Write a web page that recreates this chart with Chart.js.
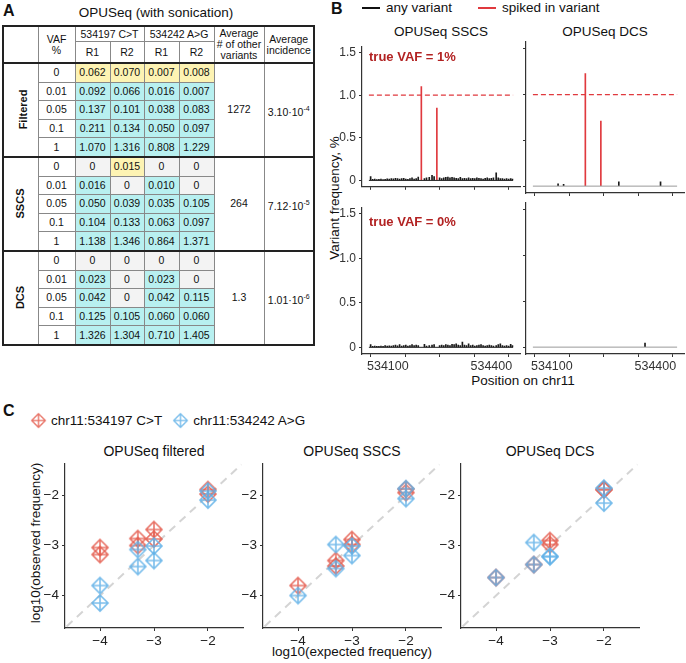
<!doctype html>
<html lang="en">
<head>
<meta charset="UTF-8" />
<title>OPUSeq with sonication</title>
<script src="https://cdn.jsdelivr.net/npm/chart.js"></script>
<style>
  body { margin: 0; background: #fff; font-family: Arial, 'Liberation Sans', sans-serif; color: #111; }
  #fig { position: relative; width: 686px; height: 663px; overflow: hidden; }
  .abs { position: absolute; white-space: nowrap; }
  .plot { position: absolute; }
  .letter { font-weight: bold; font-size: 16px; }
  .ftitle { font-size: 13.5px; transform: translateX(-50%); }
  .vaf { font-weight: bold; font-size: 13px; color: #b22222; }
  .rot { transform: translate(-50%, -50%) rotate(-90deg); font-size: 13.5px; }
  #tbl { position: absolute; left: 2px; top: 25px; width: 311px; border-collapse: collapse; table-layout: fixed;
         font-size: 10.5px; text-align: center; border: 2px solid #222; }
  #tbl td { border: 1px solid #888; padding: 0; line-height: 11px; }
  #tbl tbody { border: 2px solid #222; }
  #tbl thead tr.h1 td { height: 14px; }
  #tbl thead tr.h2 td { height: 20px; }
  #tbl tbody td { height: 17.6px; }
  #tbl td.grp { font-weight: bold; font-size: 11px; }
  #tbl td.grp span { display: inline-block; transform: rotate(-90deg); }
  #tbl td.y { background: #fdf3b3; }
  #tbl td.c { background: #b8f0f0; }
  #tbl td.z { background: #f3f3f3; }
  #tbl sup { font-size: 7px; }
  .leg { display: flex; align-items: center; font-size: 13.5px; }
  .leg .ln { display: inline-block; width: 18px; height: 2px; margin-right: 6px; }
</style>
</head>
<body>
<div id="fig">
  <div class="abs letter" style="left:3px;top:2px">A</div>
  <div class="abs" style="left:156px;top:5px;font-size:13.5px;transform:translateX(-50%)">OPUSeq (with sonication)</div>
  <table id="tbl"></table>

  <div class="abs letter" style="left:331px;top:0px">B</div>
  <div class="abs leg" style="left:362px;top:0px">
    <span class="ln" style="background:#111"></span><span>any variant</span>
    <span class="ln" style="background:#e0393e;margin-left:26px"></span><span>spiked in variant</span>
  </div>
  <div class="abs ftitle" style="left:441px;top:24px">OPUSeq SSCS</div>
  <div class="abs ftitle" style="left:605px;top:24px">OPUSeq DCS</div>
  <div class="abs rot" style="left:334px;top:198px">Variant frequency, %</div>
  <div class="abs" style="left:523px;top:373px;font-size:13.5px;transform:translateX(-50%)">Position on chr11</div>
  <canvas id="b1" class="plot" width="194" height="161" style="left:330px;top:36px"></canvas>
  <canvas id="b2" class="plot" width="164" height="161" style="left:522px;top:36px"></canvas>
  <canvas id="b3" class="plot" width="194" height="181" style="left:330px;top:197px"></canvas>
  <canvas id="b4" class="plot" width="164" height="181" style="left:522px;top:197px"></canvas>
  <div class="abs vaf" style="left:369px;top:49px">true VAF = 1%</div>
  <div class="abs vaf" style="left:369px;top:214px">true VAF = 0%</div>

  <div class="abs letter" style="left:3px;top:402px">C</div>
  <div class="abs leg" id="cleg" style="left:30px;top:412px"></div>
  <div class="abs ftitle" style="left:154px;top:443px;font-size:14px">OPUSeq filtered</div>
  <div class="abs ftitle" style="left:352px;top:443px;font-size:14px">OPUSeq SSCS</div>
  <div class="abs ftitle" style="left:550px;top:443px;font-size:14px">OPUSeq DCS</div>
  <div class="abs rot" style="left:35px;top:543px">log10(observed frequency)</div>
  <div class="abs" style="left:352px;top:644px;font-size:13.5px;transform:translateX(-50%)">log10(expected frequency)</div>
  <canvas id="c1" class="plot" width="219" height="198" style="left:30px;top:452px"></canvas>
  <canvas id="c2" class="plot" width="219" height="198" style="left:228px;top:452px"></canvas>
  <canvas id="c3" class="plot" width="219" height="198" style="left:426px;top:452px"></canvas>
</div>
<script>
  // ---- panel A table data ----
  const vafLevels = ['0', '0.01', '0.05', '0.1', '1']
  const groupNames = ['Filtered', 'SSCS', 'DCS']
  const filteredVals = [
    ['0.062', '0.070', '0.007', '0.008'],
    ['0.092', '0.066', '0.016', '0.007'],
    ['0.137', '0.101', '0.038', '0.083'],
    ['0.211', '0.134', '0.050', '0.097'],
    ['1.070', '1.316', '0.808', '1.229']
  ]
  const sscsVals = [
    ['0', '0.015', '0', '0'],
    ['0.016', '0', '0.010', '0'],
    ['0.050', '0.039', '0.035', '0.105'],
    ['0.104', '0.133', '0.063', '0.097'],
    ['1.138', '1.346', '0.864', '1.371']
  ]
  const dcsVals = [
    ['0', '0', '0', '0'],
    ['0.023', '0', '0.023', '0'],
    ['0.042', '0', '0.042', '0.115'],
    ['0.125', '0.105', '0.060', '0.060'],
    ['1.326', '1.304', '0.710', '1.405']
  ]
  const otherVariants = ['1272', '264', '1.3']
  const incidenceBase = ['3.10·10', '7.12·10', '1.01·10']
  const incidenceExp = ['-4', '-5', '-6']

  // ---- panel B data ----
  const bXTicks = [534100, 534200, 534300, 534400]
  const bXLabels = ['534100', '', '', '534400']
  const bYTicks = [0, 0.5, 1, 1.5]
  const bYLabels = ['0', '0.5', '1.0', '1.5']
  const spikedPos = [534197, 534242]
  const spikedSSCS = [1.10, 0.85]
  const spikedDCS = [1.23, 0.71]
  const trueVaf = 1
  const posRange = [534045, 534463]
  const sscsPos = [
    534050, 534056, 534062, 534068, 534074, 534080, 534086, 534092, 534098, 534104,
    534110, 534116, 534122, 534128, 534134, 534140, 534146, 534152, 534158, 534164,
    534170, 534176, 534182, 534188, 534206, 534212, 534220, 534228, 534234, 534250,
    534256, 534262, 534268, 534274, 534280, 534286, 534292, 534298, 534304, 534310,
    534316, 534322, 534328, 534334, 534340, 534346, 534352, 534358, 534364, 534370,
    534376, 534382, 534388, 534394, 534400, 534406, 534414, 534420, 534426, 534432,
    534438, 534444, 534450, 534456, 534461
  ]
  const sscsOther1 = [
    0.045, 0.012, 0.015, 0.010, 0.012, 0.015, 0.010, 0.012, 0.018, 0.015,
    0.020, 0.018, 0.025, 0.020, 0.015, 0.022, 0.025, 0.015, 0.012, 0.020,
    0.030, 0.015, 0.020, 0.040, 0.020, 0.030, 0.035, 0.060, 0.045, 0.030,
    0.020, 0.030, 0.035, 0.040, 0.030, 0.035, 0.030, 0.025, 0.020, 0.035,
    0.020, 0.025, 0.020, 0.030, 0.020, 0.025, 0.020, 0.030, 0.025, 0.020,
    0.015, 0.025, 0.030, 0.020, 0.025, 0.030, 0.090, 0.030, 0.020, 0.020,
    0.015, 0.020, 0.015, 0.020, 0.015
  ]
  const sscsOther0 = [
    0.030, 0.012, 0.015, 0.012, 0.010, 0.015, 0.012, 0.020, 0.015, 0.018,
    0.015, 0.020, 0.025, 0.018, 0.030, 0.015, 0.020, 0.025, 0.015, 0.020,
    0.030, 0.020, 0.025, 0.020, 0.035, 0.015, 0.020, 0.025, 0.030, 0.020,
    0.025, 0.020, 0.030, 0.025, 0.020, 0.035, 0.030, 0.040, 0.025, 0.020,
    0.060, 0.025, 0.020, 0.040, 0.020, 0.025, 0.015, 0.020, 0.025, 0.030,
    0.020, 0.015, 0.020, 0.025, 0.020, 0.015, 0.020, 0.030, 0.040, 0.020,
    0.015, 0.020, 0.015, 0.035, 0.020
  ]
  const dcsPos1 = [534118, 534134, 534294, 534415]
  const dcsOther1 = [0.025, 0.020, 0.047, 0.047]
  const dcsPos0 = [534370]
  const dcsOther0 = [0.045]

  // ---- panel C data (log10 frequencies) ----
  const cTicks = [-4, -3, -2]
  const cTickLabels = ['\u22124', '\u22123', '\u22122']
  const diagLine = [-4.62, -1.38]
  const filtRedX = [-4, -4, -3.3, -3.3, -3, -3, -2, -2]
  const filtRedY = [-3.04, -3.18, -2.86, -3.00, -2.68, -2.87, -1.97, -1.88]
  const filtBlueX = [-4, -4, -3.3, -3.3, -3, -3, -2, -2]
  const filtBlueY = [-3.80, -4.15, -3.42, -3.08, -3.30, -3.01, -2.09, -1.91]
  const sscsRedX = [-4, -3.3, -3.3, -3, -3, -2, -2]
  const sscsRedY = [-3.80, -3.30, -3.41, -2.98, -2.88, -1.94, -1.87]
  const sscsBlueX = [-4, -3.3, -3.3, -3, -3, -2, -2]
  const sscsBlueY = [-4.00, -3.46, -2.98, -3.20, -3.01, -2.06, -1.86]
  const dcsRedX = [-4, -3.3, -3, -3, -2, -2]
  const dcsRedY = [-3.64, -3.38, -2.90, -2.98, -1.88, -1.88]
  const dcsBlueX = [-4, -3.3, -3.3, -3, -3, -2, -2]
  const dcsBlueY = [-3.64, -3.38, -2.94, -3.22, -3.22, -2.15, -1.85]
  const variantNames = ['chr11:534197 C>T', 'chr11:534242 A>G']

  const RED = 'rgba(228, 92, 78, 0.85)'
  const BLUE = 'rgba(98, 178, 232, 0.85)'
  const FONT = 'Arial, "Liberation Sans", sans-serif'

  // ---- build table ----
  const tbl = document.getElementById('tbl')
  let html = '<colgroup><col style="width:35px"><col style="width:37px"><col style="width:35px"><col style="width:34px">' +
    '<col style="width:35px"><col style="width:35px"><col style="width:50px"><col style="width:50px"></colgroup>'
  html += '<thead><tr class="h1"><td rowspan="2"></td><td rowspan="2">VAF<br>%</td>' +
    '<td colspan="2">534197 C&gt;T</td><td colspan="2">534242 A&gt;G</td>' +
    '<td rowspan="2">Average<br># of other<br>variants</td><td rowspan="2">Average<br>incidence</td></tr>' +
    '<tr class="h2"><td>R1</td><td>R2</td><td>R1</td><td>R2</td></tr></thead>'
  ;[filteredVals, sscsVals, dcsVals].forEach((vals, g) => {
    html += '<tbody>'
    vals.forEach((row, r) => {
      html += '<tr>'
      if (r === 0) html += '<td class="grp" rowspan="5"><span>' + groupNames[g] + '</span></td>'
      html += '<td>' + vafLevels[r] + '</td>'
      row.forEach(v => {
        const cls = v === '0' ? 'z' : (r === 0 ? 'y' : 'c')
        html += '<td class="' + cls + '">' + v + '</td>'
      })
      if (r === 0) {
        html += '<td rowspan="5">' + otherVariants[g] + '</td>'
        html += '<td rowspan="5">' + incidenceBase[g] + '<sup>' + incidenceExp[g] + '</sup></td>'
      }
      html += '</tr>'
    })
    html += '</tbody>'
  })
  tbl.innerHTML = html

  // ---- panel B charts ----
  const pts = (xs, ys) => xs.map((x, i) => ({ x: x, y: ys[i] }))

  function makeB (id, box, parts) {
    const datasets = [
      { type: 'line', data: pts(posRange, [0, 0]), borderColor: parts.baseColor, borderWidth: 1, pointRadius: 0 },
      { type: 'bar', data: pts(parts.pos, parts.other), backgroundColor: '#1a1a1a', barThickness: 1, grouped: false }
    ]
    if (parts.spiked) {
      datasets.push({ type: 'bar', data: pts(spikedPos, parts.spiked), backgroundColor: '#e0393e', barThickness: 1, grouped: false })
      datasets.push({ type: 'line', data: pts(posRange, [trueVaf, trueVaf]), borderColor: '#e0393e', borderWidth: 1.3, borderDash: [5, 3], pointRadius: 0 })
    }
    new Chart(document.getElementById(id), {
      type: 'bar',
      data: { datasets: datasets },
      options: {
        responsive: false,
        animation: false,
        events: [],
        layout: { padding: { top: box.pt, right: box.pr, left: 0, bottom: 0 } },
        plugins: { legend: { display: false }, tooltip: { enabled: false } },
        scales: {
          x: {
            type: 'linear', min: 534025, max: 534483, offset: false,
            afterBuildTicks: s => { s.ticks = bXTicks.map(v => ({ value: v })) },
            afterFit: s => { s.height = box.bx },
            grid: { drawOnChartArea: false, color: '#333', tickLength: 3 },
            border: { color: '#333', width: 1.2 },
            ticks: { display: box.xLabels, autoSkip: false, maxRotation: 0, padding: 2,
              color: '#333', font: { family: FONT, size: 12.5 },
              callback: (v) => bXLabels[bXTicks.indexOf(v)] }
          },
          y: {
            type: 'linear', min: -0.075, max: 1.575,
            afterBuildTicks: s => { s.ticks = bYTicks.map(v => ({ value: v })) },
            afterFit: s => { s.width = box.ly },
            grid: { drawOnChartArea: false, color: '#333', tickLength: 3 },
            border: { color: '#333', width: 1.2 },
            ticks: { display: box.yLabels, padding: 3, color: '#333', font: { family: FONT, size: 12 },
              callback: (v) => bYLabels[bYTicks.indexOf(v)] }
          }
        }
      }
    })
  }

  makeB('b1', { pt: 6, pr: 4, bx: 4, ly: 32, xLabels: false, yLabels: true },
    { pos: sscsPos, other: sscsOther1, spiked: spikedSSCS, baseColor: '#222' })
  makeB('b2', { pt: 6, pr: 2, bx: 4, ly: 4, xLabels: false, yLabels: false },
    { pos: dcsPos1, other: dcsOther1, spiked: spikedDCS, baseColor: '#999' })
  makeB('b3', { pt: 6, pr: 4, bx: 24, ly: 32, xLabels: true, yLabels: true },
    { pos: sscsPos, other: sscsOther0, baseColor: '#222' })
  makeB('b4', { pt: 6, pr: 2, bx: 24, ly: 4, xLabels: true, yLabels: false },
    { pos: dcsPos0, other: dcsOther0, baseColor: '#999' })

  // ---- panel C charts ----
  function diamondCross (color) {
    const c = document.createElement('canvas')
    c.width = 20
    c.height = 20
    const g = c.getContext('2d')
    g.strokeStyle = color
    g.lineWidth = 1.6
    g.beginPath()
    g.moveTo(10, 2); g.lineTo(18, 10); g.lineTo(10, 18); g.lineTo(2, 10); g.closePath()
    g.moveTo(10, 2); g.lineTo(10, 18)
    g.moveTo(2, 10); g.lineTo(18, 10)
    g.stroke()
    return c
  }
  const redMark = diamondCross(RED)
  const blueMark = diamondCross(BLUE)

  const cleg = document.getElementById('cleg')
  ;[RED, BLUE].forEach((col, i) => {
    const icon = diamondCross(col)
    icon.style.width = '17px'
    icon.style.height = '17px'
    icon.style.marginRight = '4px'
    if (i > 0) icon.style.marginLeft = '10px'
    cleg.appendChild(icon)
    const t = document.createElement('span')
    t.textContent = variantNames[i]
    cleg.appendChild(t)
  })

  function makeC (id, redX, redY, blueX, blueY) {
    new Chart(document.getElementById(id), {
      type: 'scatter',
      data: {
        datasets: [
          { type: 'line', data: pts(diagLine, diagLine), borderColor: '#d4d4d4', borderWidth: 2, borderDash: [8, 6], pointRadius: 0, order: 3 },
          { data: pts(blueX, blueY), pointStyle: blueMark, order: 0 },
          { data: pts(redX, redY), pointStyle: redMark, order: 1 }
        ]
      },
      options: {
        responsive: false,
        animation: false,
        events: [],
        layout: { padding: { top: 6, right: 6, left: 0, bottom: 0 } },
        plugins: { legend: { display: false }, tooltip: { enabled: false } },
        scales: {
          x: {
            type: 'linear', min: -4.65, max: -1.35,
            afterBuildTicks: s => { s.ticks = cTicks.map(v => ({ value: v })) },
            afterFit: s => { s.height = 22 },
            grid: { drawOnChartArea: false, color: '#333', tickLength: 3 },
            border: { color: '#333', width: 1.2 },
            ticks: { padding: 2, color: '#222', font: { family: FONT, size: 13.5 },
              callback: (v) => cTickLabels[cTicks.indexOf(v)] }
          },
          y: {
            type: 'linear', min: -4.65, max: -1.35,
            afterBuildTicks: s => { s.ticks = cTicks.map(v => ({ value: v })) },
            afterFit: s => { s.width = 35 },
            grid: { drawOnChartArea: false, color: '#333', tickLength: 3 },
            border: { color: '#333', width: 1.2 },
            ticks: { padding: 3, color: '#222', font: { family: FONT, size: 13.5 },
              callback: (v) => cTickLabels[cTicks.indexOf(v)] }
          }
        }
      }
    })
  }

  makeC('c1', filtRedX, filtRedY, filtBlueX, filtBlueY)
  makeC('c2', sscsRedX, sscsRedY, sscsBlueX, sscsBlueY)
  makeC('c3', dcsRedX, dcsRedY, dcsBlueX, dcsBlueY)
</script>
</body>
</html>
